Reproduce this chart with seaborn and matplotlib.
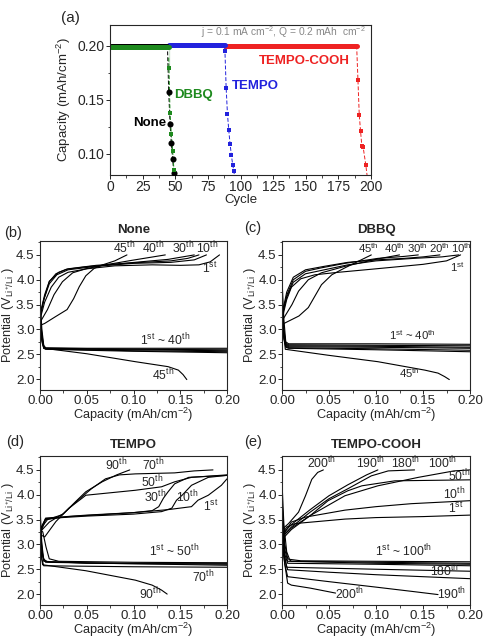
import numpy as np
import pandas as pd
import seaborn as sns
import matplotlib.pyplot as plt
from matplotlib.ticker import MultipleLocator

sns.set_style("ticks")
plt.rcParams['font.family'] = ['Liberation Sans', 'DejaVu Sans']
plt.rcParams['mathtext.fontset'] = 'custom'
plt.rcParams['mathtext.rm'] = 'Liberation Sans'
plt.rcParams['mathtext.it'] = 'Liberation Sans:italic'
plt.rcParams['mathtext.bf'] = 'Liberation Sans:bold'

# ---- (a) capacity vs cycle ----
none_cycle = [1, 44, 45, 46, 47, 48, 49, 50]
none_cap = [0.200, 0.200, 0.157, 0.128, 0.110, 0.095, 0.082, 0.070]
dbbq_cycle = [1, 45, 45, 46, 47, 48, 49, 50]
dbbq_cap = [0.1985, 0.1985, 0.179, 0.138, 0.118, 0.103, 0.085, 0.070]
tempo_cycle = [45, 88, 88, 89, 90, 91, 92, 93, 94, 95, 96]
tempo_cap = [0.2005, 0.2005, 0.195, 0.161, 0.137, 0.122, 0.109, 0.099, 0.090, 0.084, 0.070]
cooh_cycle = [88, 189, 190, 191, 192, 193, 194, 196, 198]
cooh_cap = [0.200, 0.200, 0.168, 0.136, 0.121, 0.107, 0.106, 0.090, 0.070]

# ---- (b) None ----
b_chg_1st = [(0.0, 3.20), (0.005, 3.55), (0.012, 3.85), (0.02, 4.05), (0.03, 4.15), (0.05, 4.22), (0.08, 4.28), (0.12, 4.30), (0.15, 4.29), (0.17, 4.30), (0.182, 4.36), (0.192, 4.50)]
b_chg_10th = [(0.0, 3.25), (0.004, 3.60), (0.01, 3.92), (0.018, 4.10), (0.03, 4.20), (0.06, 4.27), (0.10, 4.33), (0.14, 4.35), (0.165, 4.40), (0.178, 4.50)]
b_chg_20th = [(0.0, 3.30), (0.005, 3.70), (0.01, 3.97), (0.02, 4.15), (0.03, 4.22), (0.06, 4.29), (0.10, 4.34), (0.14, 4.38), (0.158, 4.43), (0.170, 4.50)]
b_chg_30th = [(0.0, 3.24), (0.0046, 3.63), (0.0099, 3.96), (0.017, 4.12), (0.028, 4.21), (0.049, 4.26), (0.084, 4.32), (0.113, 4.37), (0.137, 4.41), (0.165, 4.50)]
b_chg_40th = [(0.0, 3.14), (0.008, 3.40), (0.015, 3.70), (0.024, 3.96), (0.035, 4.14), (0.049, 4.22), (0.067, 4.29), (0.098, 4.39), (0.134, 4.50)]
b_chg_45th = [(0.0, 3.08), (0.005, 3.12), (0.016, 3.25), (0.029, 3.40), (0.036, 3.62), (0.042, 3.86), (0.049, 4.08), (0.058, 4.23), (0.067, 4.30), (0.080, 4.38), (0.093, 4.50)]
b_dis_1 = [(0.0, 3.65), (0.002, 3.0), (0.004, 2.68), (0.006, 2.63), (0.05, 2.62), (0.10, 2.62), (0.20, 2.62)]
b_dis_2 = [(0.0, 3.40), (0.002, 2.9), (0.004, 2.66), (0.006, 2.62), (0.05, 2.61), (0.10, 2.60), (0.20, 2.59)]
b_dis_3 = [(0.0, 3.30), (0.002, 2.85), (0.004, 2.64), (0.006, 2.61), (0.05, 2.60), (0.10, 2.59), (0.20, 2.57)]
b_dis_4 = [(0.0, 3.20), (0.002, 2.80), (0.004, 2.63), (0.006, 2.61), (0.05, 2.59), (0.10, 2.57), (0.20, 2.55)]
b_dis_5 = [(0.0, 3.10), (0.002, 2.75), (0.004, 2.62), (0.006, 2.60), (0.05, 2.58), (0.10, 2.56), (0.20, 2.53)]
b_dis_45th = [(0.0, 3.30), (0.002, 2.85), (0.004, 2.62), (0.05, 2.51), (0.102, 2.35), (0.137, 2.25), (0.148, 2.18), (0.153, 2.09), (0.157, 1.99)]

# ---- (c) DBBQ ----
c_chg_1st = [(0.0, 3.20), (0.005, 3.60), (0.01, 3.85), (0.02, 4.02), (0.035, 4.10), (0.06, 4.15), (0.10, 4.22), (0.15, 4.31), (0.175, 4.38), (0.19, 4.50)]
c_chg_10th = [(0.0, 3.25), (0.005, 3.65), (0.012, 3.95), (0.025, 4.12), (0.045, 4.20), (0.07, 4.30), (0.10, 4.38), (0.14, 4.43), (0.17, 4.46), (0.188, 4.50)]
c_chg_20th = [(0.0, 3.30), (0.005, 3.75), (0.012, 4.05), (0.025, 4.20), (0.045, 4.27), (0.07, 4.35), (0.10, 4.40), (0.13, 4.43), (0.15, 4.46), (0.168, 4.50)]
c_chg_30th = [(0.0, 3.30), (0.0053, 3.70), (0.012, 4.00), (0.025, 4.17), (0.042, 4.24), (0.067, 4.33), (0.102, 4.43), (0.130, 4.47), (0.145, 4.50)]
c_chg_40th = [(0.0, 3.17), (0.0106, 3.50), (0.0176, 3.77), (0.028, 4.00), (0.042, 4.14), (0.067, 4.27), (0.102, 4.42), (0.125, 4.50)]
c_chg_45th = [(0.0, 3.10), (0.018, 3.27), (0.028, 3.44), (0.035, 3.67), (0.042, 3.90), (0.053, 4.10), (0.067, 4.24), (0.081, 4.37), (0.095, 4.50)]
c_dis_1 = [(0.0, 4.00), (0.002, 3.2), (0.004, 2.75), (0.007, 2.71), (0.10, 2.71), (0.20, 2.70)]
c_dis_2 = [(0.0, 3.60), (0.002, 3.0), (0.004, 2.72), (0.007, 2.69), (0.10, 2.68), (0.20, 2.67)]
c_dis_3 = [(0.0, 3.50), (0.002, 2.95), (0.004, 2.70), (0.007, 2.67), (0.10, 2.66), (0.20, 2.64)]
c_dis_4 = [(0.0, 3.40), (0.002, 2.90), (0.004, 2.68), (0.007, 2.65), (0.10, 2.64), (0.20, 2.62)]
c_dis_5 = [(0.0, 3.30), (0.002, 2.85), (0.004, 2.66), (0.007, 2.63), (0.10, 2.61), (0.20, 2.58)]
c_dis_6 = [(0.0, 3.20), (0.002, 2.80), (0.004, 2.64), (0.007, 2.62), (0.10, 2.59), (0.20, 2.55)]
c_dis_45th = [(0.0, 3.40), (0.002, 2.9), (0.0035, 2.60), (0.049, 2.48), (0.102, 2.35), (0.152, 2.18), (0.166, 2.12), (0.173, 2.05), (0.178, 1.99)]

# ---- (d) TEMPO ----
d_chg_1st = [(0.0, 3.20), (0.006, 3.50), (0.03, 3.56), (0.0665, 3.60), (0.10, 3.64), (0.137, 3.70), (0.162, 3.76), (0.169, 3.89), (0.18, 3.99), (0.194, 4.19), (0.20, 4.32)]
d_chg_10th = [(0.0, 3.30), (0.006, 3.52), (0.05, 3.57), (0.10, 3.61), (0.13, 3.66), (0.141, 3.73), (0.146, 3.89), (0.152, 3.99), (0.162, 4.19), (0.18, 4.35), (0.20, 4.39)]
d_chg_30th = [(0.0, 3.25), (0.006, 3.53), (0.05, 3.59), (0.10, 3.64), (0.12, 3.68), (0.127, 3.76), (0.132, 3.93), (0.137, 4.06), (0.144, 4.22), (0.159, 4.35), (0.20, 4.39)]
d_chg_50th = [(0.0, 3.20), (0.005, 3.15), (0.017, 3.46), (0.031, 3.73), (0.045, 3.93), (0.049, 3.99), (0.102, 4.09), (0.13, 4.16), (0.144, 4.26), (0.162, 4.35), (0.20, 4.40)]
d_chg_70th = [(0.0, 3.25), (0.01, 3.45), (0.025, 3.62), (0.04, 3.88), (0.055, 4.12), (0.07, 4.32), (0.085, 4.40), (0.102, 4.42), (0.144, 4.44), (0.165, 4.48), (0.185, 4.50)]
d_chg_90th = [(0.0, 3.30), (0.008, 3.50), (0.024, 3.60), (0.038, 3.86), (0.049, 4.06), (0.0665, 4.26), (0.082, 4.40), (0.096, 4.50)]
d_dis_1 = [(0.0, 3.75), (0.002, 3.0), (0.004, 2.70), (0.008, 2.65), (0.05, 2.63), (0.10, 2.62), (0.20, 2.62)]
d_dis_2 = [(0.0, 3.50), (0.002, 2.9), (0.004, 2.66), (0.05, 2.62), (0.20, 2.60)]
d_dis_3 = [(0.0, 3.30), (0.003, 3.25), (0.0064, 2.95), (0.0099, 2.71), (0.02, 2.66), (0.10, 2.64), (0.20, 2.63)]
d_dis_4 = [(0.0, 3.40), (0.003, 2.75), (0.006, 2.64), (0.10, 2.61), (0.20, 2.58)]
d_dis_70th = [(0.0, 3.20), (0.002, 2.70), (0.004, 2.57), (0.05, 2.56), (0.10, 2.55), (0.20, 2.54)]
d_dis_90th = [(0.0, 3.10), (0.002, 2.70), (0.0028, 2.59), (0.049, 2.47), (0.102, 2.28), (0.12, 2.18), (0.13, 2.08), (0.136, 2.00)]

# ---- (e) TEMPO-COOH ----
e_chg_1st = [(0.0, 3.20), (0.005, 3.35), (0.014, 3.42), (0.067, 3.51), (0.10, 3.54), (0.15, 3.56), (0.20, 3.59)]
e_chg_10th = [(0.0, 3.15), (0.01, 3.45), (0.025, 3.55), (0.067, 3.69), (0.10, 3.76), (0.1376, 3.82), (0.20, 3.88)]
e_chg_50th = [(0.0, 3.10), (0.01, 3.30), (0.03, 3.58), (0.049, 3.88), (0.07, 4.08), (0.085, 4.18), (0.12, 4.28), (0.16, 4.29), (0.20, 4.30)]
e_chg_100th = [(0.0, 3.15), (0.01, 3.33), (0.03, 3.58), (0.067, 3.98), (0.102, 4.18), (0.145, 4.35), (0.183, 4.48), (0.20, 4.50)]
e_chg_180th = [(0.0, 3.15), (0.01, 3.35), (0.03, 3.65), (0.05, 3.92), (0.07, 4.12), (0.095, 4.38), (0.113, 4.48), (0.141, 4.50)]
e_chg_190th = [(0.0, 3.20), (0.01, 3.40), (0.03, 3.70), (0.05, 3.98), (0.07, 4.20), (0.09, 4.40), (0.102, 4.50)]
e_chg_200th = [(0.0, 3.30), (0.007, 3.42), (0.0176, 3.65), (0.025, 3.98), (0.0317, 4.31), (0.038, 4.45), (0.044, 4.50)]
e_dis_1 = [(0.0, 4.25), (0.002, 3.4), (0.005, 2.85), (0.008, 2.70), (0.02, 2.67), (0.10, 2.66), (0.20, 2.65)]
e_dis_2 = [(0.0, 3.90), (0.003, 3.0), (0.006, 2.72), (0.01, 2.66), (0.10, 2.64), (0.20, 2.62)]
e_dis_3 = [(0.0, 3.60), (0.003, 2.9), (0.006, 2.66), (0.10, 2.62), (0.20, 2.60)]
e_dis_4 = [(0.0, 3.40), (0.003, 2.8), (0.006, 2.62), (0.10, 2.60), (0.20, 2.57)]
e_dis_5 = [(0.0, 3.30), (0.003, 2.75), (0.005, 2.54), (0.10, 2.50), (0.20, 2.46)]
e_dis_180th = [(0.0, 3.20), (0.003, 2.70), (0.006, 2.49), (0.05, 2.44), (0.10, 2.39), (0.15, 2.35), (0.20, 2.31)]
e_dis_190th = [(0.0, 3.10), (0.003, 2.60), (0.006, 2.35), (0.05, 2.25), (0.10, 2.14), (0.14, 2.05), (0.166, 1.99)]
e_dis_200th = [(0.0, 3.00), (0.003, 2.60), (0.006, 2.22), (0.01, 2.18), (0.03, 2.12), (0.057, 2.02)]

th = r'$^{\mathrm{th}}$'
st = r'$^{\mathrm{st}}$'

panels = {
    'b': dict(title='None', letter='(b)', lsize=8.8,
              curves=[b_chg_1st, b_chg_10th, b_chg_20th, b_chg_30th, b_chg_40th, b_chg_45th,
                      b_dis_1, b_dis_2, b_dis_3, b_dis_4, b_dis_5, b_dis_45th],
              labels=[(0.090, 4.63, '45' + th), (0.121, 4.63, '40' + th), (0.153, 4.63, '30' + th),
                      (0.179, 4.63, '10' + th), (0.182, 4.23, '1' + st),
                      (0.134, 2.79, '1' + st + ' ~ 40' + th), (0.132, 2.08, '45' + th)]),
    'c': dict(title='DBBQ', letter='(c)', lsize=8.2,
              curves=[c_chg_1st, c_chg_10th, c_chg_20th, c_chg_30th, c_chg_40th, c_chg_45th,
                      c_dis_1, c_dis_2, c_dis_3, c_dis_4, c_dis_5, c_dis_6, c_dis_45th],
              labels=[(0.092, 4.63, '45' + th), (0.120, 4.63, '40' + th), (0.1445, 4.63, '30' + th),
                      (0.167, 4.63, '20' + th), (0.1905, 4.63, '10' + th), (0.186, 4.26, '1' + st),
                      (0.139, 2.88, '1' + st + ' ~ 40' + th), (0.136, 2.12, '45' + th)]),
    'd': dict(title='TEMPO', letter='(d)', lsize=8.8,
              curves=[d_chg_1st, d_chg_10th, d_chg_30th, d_chg_50th, d_chg_70th, d_chg_90th,
                      d_dis_1, d_dis_2, d_dis_3, d_dis_4, d_dis_70th, d_dis_90th],
              labels=[(0.081, 4.60, '90' + th), (0.121, 4.60, '70' + th), (0.120, 4.26, '50' + th),
                      (0.123, 3.96, '30' + th), (0.157, 3.96, '10' + th), (0.183, 3.76, '1' + st),
                      (0.143, 2.87, '1' + st + ' ~ 50' + th), (0.175, 2.34, '70' + th), (0.118, 2.01, '90' + th)]),
    'e': dict(title='TEMPO-COOH', letter='(e)', lsize=8.8,
              curves=[e_chg_1st, e_chg_10th, e_chg_50th, e_chg_100th, e_chg_180th, e_chg_190th, e_chg_200th,
                      e_dis_1, e_dis_2, e_dis_3, e_dis_4, e_dis_5, e_dis_180th, e_dis_190th, e_dis_200th],
              labels=[(0.042, 4.63, '200' + th), (0.094, 4.63, '190' + th), (0.132, 4.63, '180' + th),
                      (0.171, 4.63, '100' + th), (0.189, 4.38, '50' + th), (0.183, 4.02, '10' + th),
                      (0.185, 3.72, '1' + st), (0.129, 2.86, '1' + st + ' ~ 100' + th),
                      (0.173, 2.46, '180' + th), (0.072, 2.00, '200' + th), (0.180, 2.00, '190' + th)]),
}

W, H = 483, 639
fig = plt.figure(figsize=(W / 100, H / 100), dpi=100)


def frac(l, t, r, b):
    return [l / W, 1 - b / H, (r - l) / W, (b - t) / H]


boxes = {'b': frac(40, 241, 227, 390), 'c': frac(282, 241, 470, 390),
         'd': frac(40, 456, 227, 605), 'e': frac(282, 456, 470, 605)}
letter_pos = {'b': (13, 233), 'c': (253, 228), 'd': (15, 442), 'e': (253, 442)}


def style_axes(ax, size):
    for s in ax.spines.values():
        s.set_visible(True)
        s.set_linewidth(0.8)
    ax.tick_params(which='major', direction='out', length=3, width=0.7, labelsize=size,
                   top=False, right=False, pad=0.8)
    ax.tick_params(which='minor', direction='out', length=1.8, width=0.6, top=False, right=False)


# ---- panel (a) ----
axa = fig.add_axes(frac(110, 25, 371, 175))
series = [(cooh_cycle, cooh_cap, '#ee2222', 's', 3.5),
          (tempo_cycle, tempo_cap, '#2222dd', 's', 3.2),
          (none_cycle, none_cap, 'black', 'o', 4.4),
          (dbbq_cycle, dbbq_cap, '#1e8a1e', 's', 2.8)]
for cyc, cap, col, mk, ms in series:
    df = pd.DataFrame({'cycle': cyc, 'cap': cap})
    sns.lineplot(data=df.iloc[:2], x='cycle', y='cap', color=col, lw=3.6, ax=axa, sort=False)
    sns.lineplot(data=df.iloc[1:], x='cycle', y='cap', color=col, lw=0.7, ls=(0, (4, 2)), ax=axa, sort=False)
    sns.scatterplot(data=df.iloc[2:], x='cycle', y='cap', color=col, marker=mk, s=ms ** 2,
                    linewidth=0, ax=axa, zorder=5)
axa.set_xlim(0, 200)
axa.set_ylim(0.0805, 0.219)
axa.xaxis.set_major_locator(MultipleLocator(25))
axa.xaxis.set_minor_locator(MultipleLocator(12.5))
axa.yaxis.set_major_locator(MultipleLocator(0.05))
axa.yaxis.set_minor_locator(MultipleLocator(0.025))
axa.yaxis.set_major_formatter(plt.FormatStrFormatter('%.2f'))
style_axes(axa, 10)
axa.set_xlabel('Cycle', fontsize=9.5, labelpad=0)
axa.set_ylabel('Capacity (mAh/cm$^{-2}$)', fontsize=9.5, labelpad=3)
axa.text(196, 0.2125, 'j = 0.1 mA cm$^{-2}$, Q = 0.2 mAh  cm$^{-2}$', color='#888888',
         fontsize=7.4, ha='right', va='center')
axa.text(149, 0.1857, 'TEMPO-COOH', color='#ee2222', fontsize=9.5, fontweight='bold', ha='center', va='center')
axa.text(111.5, 0.163, 'TEMPO', color='#2222dd', fontsize=9.5, fontweight='bold', ha='center', va='center')
axa.text(64, 0.1547, 'DBBQ', color='#1e8a1e', fontsize=9.5, fontweight='bold', ha='center', va='center')
axa.text(30.6, 0.1288, 'None', color='black', fontsize=9.5, fontweight='bold', ha='center', va='center')
fig.text(70 / W, 1 - 18 / H, '(a)', fontsize=11, ha='center', va='center')

# ---- panels (b)-(e) ----
for key, p in panels.items():
    ax = fig.add_axes(boxes[key])
    for curve in p['curves']:
        xs, ys = zip(*curve)
        sns.lineplot(x=list(xs), y=list(ys), color='black', lw=0.8, ax=ax, sort=False, estimator=None)
    for x, y, t in p['labels']:
        ax.text(x, y, t, fontsize=p['lsize'], ha='center', va='center')
    ax.set_xlim(0, 0.2)
    ax.set_ylim(1.78, 4.78)
    ax.xaxis.set_major_locator(MultipleLocator(0.05))
    ax.xaxis.set_minor_locator(MultipleLocator(0.025))
    ax.yaxis.set_major_locator(MultipleLocator(0.5))
    ax.yaxis.set_minor_locator(MultipleLocator(0.25))
    ax.xaxis.set_major_formatter(plt.FormatStrFormatter('%.2f'))
    ax.yaxis.set_major_formatter(plt.FormatStrFormatter('%.1f'))
    style_axes(ax, 9.6)
    ax.set_title(p['title'], fontsize=9.5, fontweight='bold', pad=5.5)
    ax.set_xlabel('Capacity (mAh/cm$^{-2}$)', fontsize=9.2, labelpad=-0.8)
    ax.set_ylabel(r'Potential (V$_{\mathrm{Li^{+}/Li}}$ )', fontsize=9.2, labelpad=0)
    lx, ly = letter_pos[key]
    fig.text(lx / W, 1 - ly / H, p['letter'], fontsize=10.5, ha='center', va='center')

fig.savefig('out.png', dpi=100)
